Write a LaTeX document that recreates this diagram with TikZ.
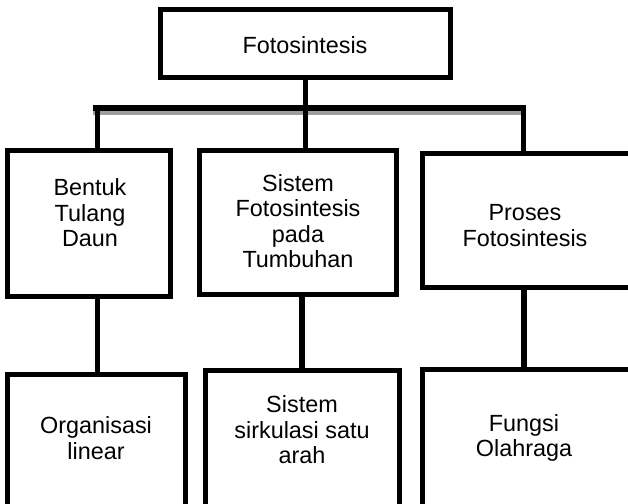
\documentclass[tikz,border=0pt]{standalone}
\usepackage{fontspec}
\setmainfont{Liberation Sans}
\begin{document}
\begin{tikzpicture}[x=1pt,y=-1pt,
  box/.style={draw=black, line width=5.5pt, rectangle, inner sep=0pt, fill=white},
  txt/.style={align=center, font=\fontsize{23.4}{25.5}\selectfont, inner sep=0pt},
  conn/.style={draw=black, line width=5.5pt, line join=miter},
  shadowline/.style={draw=black!38, line width=4pt}]
\useasboundingbox (0,0) rectangle (628,503);
\clip (0,0) rectangle (628,503);
% boxes
\node[box, minimum width=290pt, minimum height=68pt] (top) at (305.5,43.5) {};
\node[box, minimum width=163pt, minimum height=146pt] (b1) at (89,223.5) {};
\node[box, minimum width=197pt, minimum height=144pt] (b2) at (298,222.5) {};
\node[box, minimum width=210pt, minimum height=134pt] (b3) at (527.5,220.5) {};
\node[box, minimum width=178pt, minimum height=150pt] (b4) at (96.5,449.5) {};
\node[box, minimum width=194pt, minimum height=154pt] (b5) at (302.5,447.5) {};
\node[box, minimum width=210pt, minimum height=155pt] (b6) at (527.5,447) {};
% texts
\node[txt] (t0) at (305,45) {Fotosintesis};
\node[txt] (t1) at (90,213) {Bentuk\\Tulang\\Daun};
\node[txt] (t2) at (298,221) {Sistem\\Fotosintesis\\pada\\Tumbuhan};
\node[txt] (t3) at (525,225.5) {Proses\\Fotosintesis};
\node[txt] (t4) at (96,438) {Organisasi\\linear};
\node[txt] (t5) at (302,430) {Sistem\\sirkulasi satu\\arah};
\node[txt] (t6) at (524,438) {Fungsi\\Olahraga};
% bar coordinates
\coordinate (barL) at (97.5,108);
\coordinate (barR) at (523.5,108);
\coordinate (barM) at (305.5,108);
% shadow of the bar
\draw[shadowline] (93,113) -- (521,113);
% connectors
\draw[conn] (b1.north -| barL) -- (barL) -- (barR) -- (b3.north -| barR);
\draw[conn] (93,108) -- (barL);
\draw[conn] (top.south) -- (b2.north -| top.south);
\draw[conn] (b1.south -| barL) -- (b4.north -| barL);
\draw[conn] (302,294.5) -- (b5.north -| 302,0);
\draw[conn] (b3.south -| 524,0) -- (b6.north -| 524,0);
\end{tikzpicture}
\end{document}
